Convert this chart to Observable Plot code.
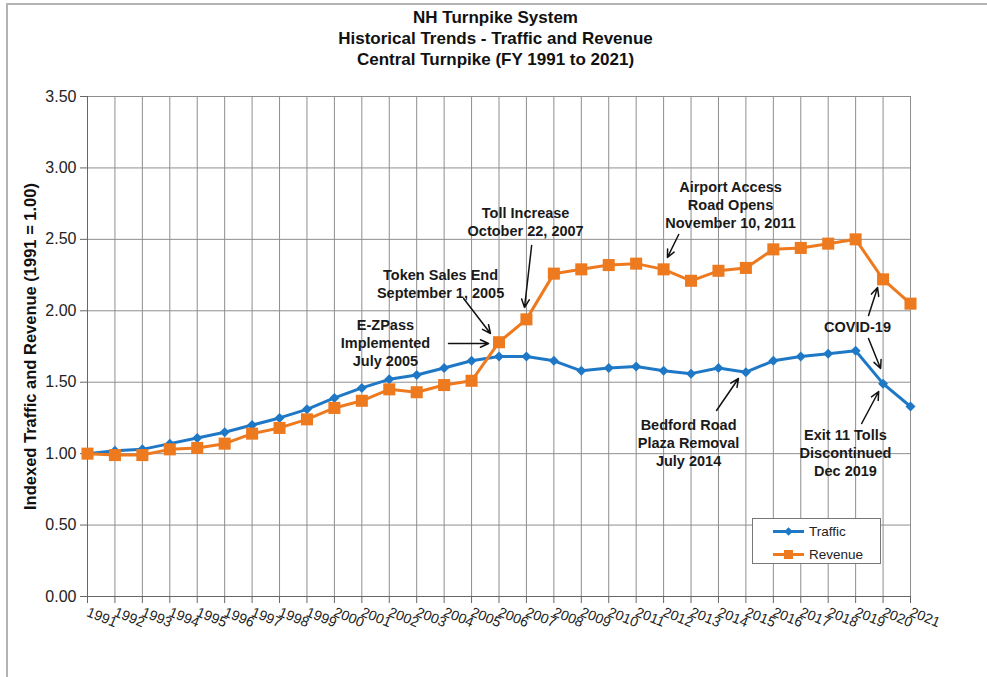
<!DOCTYPE html>
<html>
<head>
<meta charset="utf-8">
<script src="https://cdn.jsdelivr.net/npm/d3@7"></script>
<script src="https://cdn.jsdelivr.net/npm/@observablehq/plot@0.6"></script>
<style>
  body { margin: 0; background: #fff; font-family: "Liberation Sans", Arial, sans-serif; }
  #wrap { position: relative; width: 987px; height: 677px; overflow: hidden; background: #fff; }
  #title { height: 80px; box-sizing: border-box; padding-top: 7px; width: 991px; text-align: center;
           font-weight: bold; font-size: 17px; line-height: 21px; color: #111; }
  #chart svg { display: block; }
  #border { position: absolute; left: 6px; top: 3px; width: 1100px; height: 800px;
            border: 2px solid #b3b3b3; pointer-events: none; }
  #legend { position: absolute; left: 752px; top: 518px; width: 129px; height: 46px; box-sizing: border-box;
            border: 1px solid #777; background: #fff; font-size: 13.5px; color: #222; }
  #legend .item { position: absolute; left: 20px; display: flex; align-items: center; }
  #legend svg { margin-right: 5px; }
</style>
</head>
<body>
<div id="wrap">
  <div id="title">NH Turnpike System<br>Historical Trends - Traffic and Revenue<br>Central Turnpike (FY 1991 to 2021)</div>
  <div id="chart"></div>
  <div id="legend"></div>
  <div id="border"></div>
</div>
<script>
// Fiscal years on the x axis
const years = [1991, 1992, 1993, 1994, 1995, 1996, 1997, 1998, 1999, 2000, 2001, 2002, 2003, 2004, 2005, 2006,
               2007, 2008, 2009, 2010, 2011, 2012, 2013, 2014, 2015, 2016, 2017, 2018, 2019, 2020, 2021];
// Indexed traffic (1991 = 1.00)
const traffic = [1.00, 1.02, 1.03, 1.07, 1.11, 1.15, 1.20, 1.25, 1.31, 1.39, 1.46, 1.52, 1.55, 1.60, 1.65, 1.68,
                 1.68, 1.65, 1.58, 1.60, 1.61, 1.58, 1.56, 1.60, 1.57, 1.65, 1.68, 1.70, 1.72, 1.49, 1.33];
// Indexed revenue (1991 = 1.00)
const revenue = [1.00, 0.99, 0.99, 1.03, 1.04, 1.07, 1.14, 1.18, 1.24, 1.32, 1.37, 1.45, 1.43, 1.48, 1.51, 1.78,
                 1.94, 2.26, 2.29, 2.32, 2.33, 2.29, 2.21, 2.28, 2.30, 2.43, 2.44, 2.47, 2.50, 2.22, 2.05];
// Y axis tick values
const yTicks = [0, 0.5, 1.0, 1.5, 2.0, 2.5, 3.0, 3.5];

// Event notes placed in data space (x = fractional year, y = index)
const notes = [
  {text: "E-ZPass\nImplemented\nJuly 2005", x: 2001.86, y: 1.778},
  {text: "Token Sales End\nSeptember 1, 2005", x: 2003.87, y: 2.194},
  {text: "Toll Increase\nOctober 22, 2007", x: 2006.97, y: 2.628},
  {text: "Airport Access\nRoad Opens\nNovember 10, 2011", x: 2014.44, y: 2.747},
  {text: "COVID-19", x: 2019.07, y: 1.89},
  {text: "Bedford Road\nPlaza Removal\nJuly 2014", x: 2012.91, y: 1.078},
  {text: "Exit 11 Tolls\nDiscontinued\nDec 2019", x: 2018.63, y: 1.008}
];
// Pointer arrows from each note to its point
const arrows = [
  {x1: 2004.16, y1: 1.771, x2: 2005.62, y2: 1.771},
  {x1: 2004.71, y1: 2.086, x2: 2005.69, y2: 1.841},
  {x1: 2007.19, y1: 2.457, x2: 2006.93, y2: 2.023},
  {x1: 2012.55, y1: 2.534, x2: 2012.14, y2: 2.373},
  {x1: 2019.47, y1: 1.967, x2: 2019.80, y2: 2.163},
  {x1: 2019.47, y1: 1.806, x2: 2019.91, y2: 1.596},
  {x1: 2013.93, y1: 1.302, x2: 2014.73, y2: 1.526},
  {x1: 2019.22, y1: 1.211, x2: 2019.84, y2: 1.435}
];

const BLUE = "#1f78c6";
const ORANGE = "#ee7a20";
const GRID = "#8e8e8e";

const trafficRows = years.map((year, i) => ({year, value: traffic[i]}));
const revenueRows = years.map((year, i) => ({year, value: revenue[i]}));

const chart = Plot.plot({
  width: 987,
  height: 597,
  marginLeft: 87,
  marginRight: 77,
  marginTop: 16,
  marginBottom: 81,
  x: {domain: [1991, 2021]},
  y: {domain: [0, 3.5]},
  style: {fontFamily: "'Liberation Sans', Arial, sans-serif", background: "white", color: "#222"},
  marks: [
    Plot.gridX({ticks: years, stroke: GRID, strokeOpacity: 1}),
    Plot.gridY({ticks: yTicks, stroke: GRID, strokeOpacity: 1}),
    Plot.frame({stroke: GRID}),
    Plot.ruleY([0], {stroke: "#666"}),
    Plot.ruleX([1991], {stroke: "#666"}),
    Plot.axisY({ticks: yTicks, tickFormat: d => d.toFixed(2), tickSize: 7, tickPadding: 4,
                fontSize: 16, label: null, stroke: "#666", fill: "#222"}),
    Plot.axisX({ticks: years, tickFormat: d => String(d), tickSize: 7, tickPadding: 8, tickRotate: 22,
                fontSize: 14, label: null, stroke: "#666", fill: "#222"}),
    Plot.text(["Indexed Traffic and Revenue (1991 = 1.00)"], {
      frameAnchor: "left", dx: -57, rotate: -90, textAnchor: "middle",
      fontWeight: "bold", fontSize: 16.5, fill: "#111"
    }),
    Plot.line(trafficRows, {x: "year", y: "value", stroke: BLUE, strokeWidth: 3}),
    Plot.dot(trafficRows, {x: "year", y: "value", symbol: "square", rotate: 45, r: 4, fill: BLUE, stroke: null}),
    Plot.line(revenueRows, {x: "year", y: "value", stroke: ORANGE, strokeWidth: 3}),
    Plot.dot(revenueRows, {x: "year", y: "value", symbol: "square", r: 6.8, fill: ORANGE, stroke: null}),
    Plot.text(notes, {x: "x", y: "y", text: "text", fontWeight: "bold", fontSize: 14.5, lineHeight: 1.25,
                      fill: "#1a1a1a"}),
    Plot.arrow(arrows, {x1: "x1", y1: "y1", x2: "x2", y2: "y2", stroke: "#111", strokeWidth: 1.5,
                        headLength: 9, headAngle: 50})
  ]
});
document.getElementById("chart").append(chart);

// Legend: line swatch with marker for each series
const legendItems = [
  {name: "Traffic", color: BLUE, marker: "diamond", top: 3},
  {name: "Revenue", color: ORANGE, marker: "square", top: 26}
];
const legend = document.getElementById("legend");
for (const item of legendItems) {
  const el = document.createElement("div");
  el.className = "item";
  el.style.top = item.top + "px";
  const shape = item.marker === "square"
    ? `<rect x="11" y="5" width="9" height="9" fill="${item.color}"/>`
    : `<rect x="12.5" y="6.5" width="6" height="6" fill="${item.color}" transform="rotate(45 15.5 9.5)"/>`;
  el.innerHTML = `<svg width="31" height="19"><line x1="0" x2="31" y1="9.5" y2="9.5" stroke="${item.color}" stroke-width="3"/>${shape}</svg><span>${item.name}</span>`;
  legend.append(el);
}
</script>
</body>
</html>
